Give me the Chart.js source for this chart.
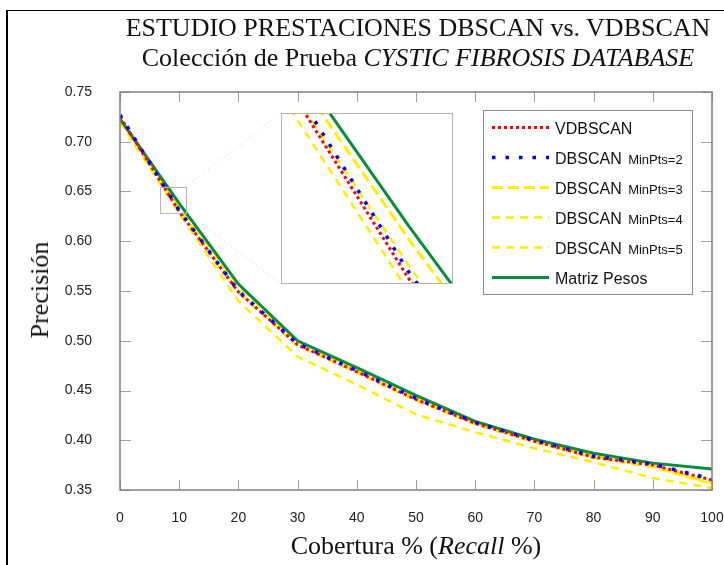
<!DOCTYPE html>
<html>
<head>
<meta charset="utf-8">
<script src="https://cdn.jsdelivr.net/npm/chart.js@4"></script>
<style>
  html, body { margin: 0; padding: 0; background: #fff; }
  #wrap { position: relative; width: 724px; height: 565px; overflow: hidden; background: #fff; }
  #frame { position: absolute; left: 6px; top: 10px; width: 800px; height: 600px;
           border-top: 1px solid #000; border-left: 2px solid #000; }
  #mainChart { position: absolute; left: 0; top: 0; }
  #zoomChart { position: absolute; left: 281px; top: 113px; background: #fff; }
  .serif { position: absolute; font-family: 'Liberation Serif', 'Times New Roman', serif;
           font-size: 26px; color: #111; white-space: nowrap; text-align: center; }
  #title { left: 118px; width: 600px; top: 13px; line-height: 30px; }
  #xTitle { left: 116px; width: 600px; top: 531px; line-height: 30px; }
  #yTitle { left: 40px; top: 290px; line-height: 30px; transform: translate(-50%, -50%) rotate(-90deg); }
</style>
</head>
<body>
<div id="wrap">
  <div id="frame"></div>
  <canvas id="mainChart" width="724" height="565"></canvas>
  <canvas id="zoomChart" width="172" height="171"></canvas>
  <div id="title" class="serif">ESTUDIO PRESTACIONES DBSCAN vs. VDBSCAN<br>Colección de Prueba <i>CYSTIC FIBROSIS DATABASE</i></div>
  <div id="xTitle" class="serif">Cobertura % (<i>Recall</i> %)</div>
  <div id="yTitle" class="serif">Precisión</div>
</div>
<script>
// recall levels (x axis) and precision per method
const recall = [0, 10, 20, 30, 40, 50, 60, 70, 80, 90, 100];
const vdbscan   = [0.725, 0.630, 0.549, 0.496, 0.469, 0.441, 0.417, 0.399, 0.383, 0.375, 0.360];
const dbscan2   = [0.727, 0.631, 0.550, 0.497, 0.470, 0.442, 0.418, 0.400, 0.384, 0.376, 0.361];
const dbscan3   = [0.722, 0.636, 0.555, 0.499, 0.471, 0.443, 0.418, 0.399, 0.384, 0.374, 0.357];
const dbscan4   = [0.721, 0.632, 0.548, 0.495, 0.468, 0.440, 0.416, 0.398, 0.382, 0.373, 0.356];
const dbscan5   = [0.720, 0.628, 0.540, 0.484, 0.456, 0.426, 0.408, 0.392, 0.378, 0.362, 0.352];
const matriz    = [0.723, 0.638, 0.557, 0.500, 0.473, 0.445, 0.419, 0.401, 0.387, 0.377, 0.371];

const xTicks = [0, 10, 20, 30, 40, 50, 60, 70, 80, 90, 100];
const yTicks = [0.35, 0.40, 0.45, 0.50, 0.55, 0.60, 0.65, 0.70, 0.75];

// region shown magnified in the inset
const zoomX = [6.76, 11.15];
const zoomY = [0.629, 0.655];

const series = [
    { name: 'VDBSCAN', sub: '', data: vdbscan, color: '#ff0000', width: 3, dash: [3, 3], order: 1 },
    { name: 'DBSCAN', sub: 'MinPts=2', data: dbscan2, color: '#0000ff', width: 3.5, dash: [3.5, 10], order: 0 },
    { name: 'DBSCAN', sub: 'MinPts=3', data: dbscan3, color: '#ffee00', width: 3, dash: [11, 5], order: 3 },
    { name: 'DBSCAN', sub: 'MinPts=4', data: dbscan4, color: '#ffee00', width: 2.5, dash: [8, 6], order: 4 },
    { name: 'DBSCAN', sub: 'MinPts=5', data: dbscan5, color: '#ffee00', width: 2.5, dash: [8, 6], order: 5 },
    { name: 'Matriz Pesos', sub: '', data: matriz, color: '#0a8c3c', width: 3, dash: [], order: 2 }
];

function buildDatasets() {
    return series.map(s => ({
        label: s.name + (s.sub ? ' ' + s.sub : ''),
        data: s.data.map((v, i) => ({ x: recall[i], y: v })),
        borderColor: s.color,
        backgroundColor: s.color,
        borderWidth: s.width,
        borderDash: s.dash,
        pointRadius: 0,
        tension: 0,
        fill: false,
        order: s.order
    }));
}

/**
 * Frame, inward tick marks, zoom box and connector lines
 */
const framePlugin = {
    id: 'frame',
    afterDatasetsDraw(chart) {
        const ctx = chart.ctx;
        const a = chart.chartArea;
        const xs = chart.scales.x, ys = chart.scales.y;
        ctx.save();
        ctx.strokeStyle = '#a0a0a0';
        ctx.lineWidth = 1;
        xTicks.forEach(t => {
            const px = Math.round(xs.getPixelForValue(t)) + 0.5;
            ctx.beginPath();
            ctx.moveTo(px, a.bottom); ctx.lineTo(px, a.bottom - 10);
            ctx.moveTo(px, a.top); ctx.lineTo(px, a.top + 10);
            ctx.stroke();
        });
        yTicks.forEach(t => {
            const py = Math.round(ys.getPixelForValue(t)) + 0.5;
            ctx.beginPath();
            ctx.moveTo(a.left, py); ctx.lineTo(a.left + 11, py);
            ctx.moveTo(a.right, py); ctx.lineTo(a.right - 11, py);
            ctx.stroke();
        });
        ctx.strokeStyle = '#808080';
        ctx.lineWidth = 1.5;
        ctx.strokeRect(a.left, a.top, a.right - a.left, a.bottom - a.top);

        // zoom box
        const bx0 = xs.getPixelForValue(zoomX[0]), bx1 = xs.getPixelForValue(zoomX[1]);
        const by0 = ys.getPixelForValue(zoomY[1]), by1 = ys.getPixelForValue(zoomY[0]);
        ctx.strokeStyle = '#b4b4b4';
        ctx.lineWidth = 1;
        ctx.strokeRect(Math.round(bx0) + 0.5, Math.round(by0) + 0.5, bx1 - bx0, by1 - by0);

        // connectors to the inset
        const inset = document.getElementById('zoomChart');
        const ix = inset.offsetLeft, iy = inset.offsetTop, ih = inset.height;
        ctx.strokeStyle = '#cfcfcf';
        ctx.setLineDash([1, 3]);
        ctx.beginPath();
        ctx.moveTo(bx1, by0); ctx.lineTo(ix, iy);
        ctx.moveTo(bx1, by1); ctx.lineTo(ix, iy + ih);
        ctx.stroke();
        ctx.restore();
    }
};

/**
 * Legend box with subscripted MinPts labels
 */
const legendPlugin = {
    id: 'customLegend',
    afterDraw(chart) {
        const ctx = chart.ctx;
        const box = { left: 483, top: 110, width: 209, height: 184 };
        ctx.save();
        ctx.fillStyle = '#fff';
        ctx.fillRect(box.left, box.top, box.width, box.height);
        ctx.strokeStyle = '#8c8c8c';
        ctx.lineWidth = 1;
        ctx.strokeRect(box.left + 0.5, box.top + 0.5, box.width, box.height);
        series.forEach((s, i) => {
            const y = 127.5 + i * 30;
            ctx.beginPath();
            ctx.strokeStyle = s.color;
            ctx.lineWidth = s.width;
            ctx.setLineDash(s.dash);
            ctx.moveTo(492, y); ctx.lineTo(549, y);
            ctx.stroke();
            ctx.setLineDash([]);
            ctx.fillStyle = '#111';
            ctx.textBaseline = 'alphabetic';
            ctx.font = '16px "Liberation Sans", Arial, sans-serif';
            ctx.fillText(s.name, 555, y + 6);
            if (s.sub) {
                const w = ctx.measureText(s.name + ' ').width;
                ctx.font = '13px "Liberation Sans", Arial, sans-serif';
                ctx.fillText(s.sub, 555 + w + 2, y + 6);
            }
        });
        ctx.restore();
    }
};

const tickFont = { family: '"Liberation Sans", Arial, sans-serif', size: 14 };

new Chart(document.getElementById('mainChart').getContext('2d'), {
    type: 'line',
    data: { datasets: buildDatasets() },
    options: {
        responsive: false,
        animation: false,
        events: [],
        layout: { autoPadding: false, padding: { top: 92, right: 12, left: 0, bottom: 0 } },
        plugins: { legend: { display: false }, tooltip: { enabled: false }, title: { display: false } },
        scales: {
            x: {
                type: 'linear', min: 0, max: 100,
                grid: { display: false, drawTicks: false },
                border: { display: false },
                ticks: { stepSize: 10, padding: 20, color: '#222', font: tickFont, maxRotation: 0 },
                afterFit: scale => { scale.height = 75; scale.paddingLeft = 0; scale.paddingRight = 0; }
            },
            y: {
                type: 'linear', min: 0.35, max: 0.75,
                grid: { display: false, drawTicks: false },
                border: { display: false },
                ticks: { stepSize: 0.05, padding: 28, color: '#222', font: tickFont,
                         callback: v => v.toFixed(2) },
                afterFit: scale => { scale.width = 120; scale.paddingTop = 0; scale.paddingBottom = 0; }
            }
        }
    },
    plugins: [framePlugin, legendPlugin]
});

// magnified inset
const insetBorder = {
    id: 'insetBorder',
    afterDraw(chart) {
        const ctx = chart.ctx;
        ctx.save();
        ctx.strokeStyle = '#b4b4b4';
        ctx.lineWidth = 1;
        ctx.strokeRect(0.5, 0.5, chart.width - 1, chart.height - 1);
        ctx.restore();
    }
};

new Chart(document.getElementById('zoomChart').getContext('2d'), {
    type: 'line',
    data: { datasets: buildDatasets() },
    options: {
        responsive: false,
        animation: false,
        events: [],
        layout: { autoPadding: false, padding: 0 },
        plugins: { legend: { display: false }, tooltip: { enabled: false } },
        scales: {
            x: { type: 'linear', display: false, min: zoomX[0], max: zoomX[1] },
            y: { type: 'linear', display: false, min: zoomY[0], max: zoomY[1] }
        }
    },
    plugins: [insetBorder]
});
</script>
</body>
</html>
